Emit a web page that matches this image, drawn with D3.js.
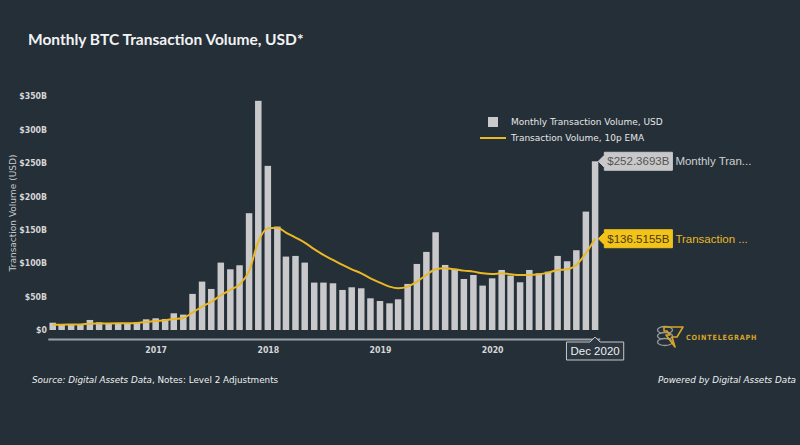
<!DOCTYPE html>
<html>
<head>
<meta charset="utf-8">
<script src="https://cdn.jsdelivr.net/npm/d3@7"></script>
<style>
  html, body { margin: 0; padding: 0; background: #242f38; }
  svg { display: block; }
</style>
</head>
<body>
<div id="chart"></div>
<script>
// ---- Data ----
const months = [
  "2016-02","2016-03","2016-04","2016-05","2016-06","2016-07","2016-08","2016-09","2016-10","2016-11","2016-12",
  "2017-01","2017-02","2017-03","2017-04","2017-05","2017-06","2017-07","2017-08","2017-09","2017-10","2017-11","2017-12",
  "2018-01","2018-02","2018-03","2018-04","2018-05","2018-06","2018-07","2018-08","2018-09","2018-10","2018-11","2018-12",
  "2019-01","2019-02","2019-03","2019-04","2019-05","2019-06","2019-07","2019-08","2019-09","2019-10","2019-11","2019-12",
  "2020-01","2020-02","2020-03","2020-04","2020-05","2020-06","2020-07","2020-08","2020-09","2020-10","2020-11","2020-12"
];
// Monthly transaction volume, billions USD
const volume = [
  10.9, 7.5, 7.5, 7.5, 15, 11.5, 10, 10, 10, 11.5, 16,
  17.5, 16.5, 25, 23, 54, 72.4, 61.4, 100.8, 90.8, 96.8, 174.7, 342.8,
  245.5, 154.7, 109.8, 110.8, 100.8, 70.9, 70.9, 69.9, 59.9, 63.9, 62.4, 47.4,
  43.4, 39.9, 45.9, 68.9, 98.8, 116.8, 146.2, 97.3, 90.8, 76.3, 82.3, 66.4,
  77.3, 89.8, 81.4, 71.4, 89.8, 84.8, 87.3, 110.8, 102.8, 119.3, 177.1, 252.3693
];
// 10-period EMA, billions USD
const ema = [
  8, 8, 8.2, 8.4, 9.5, 9.8, 9.9, 10, 10, 10.5, 12,
  13.5, 14.5, 16.5, 18, 26, 35, 42, 52, 60, 68, 88, 132,
  152, 153, 145.7, 138.2, 130.7, 121, 112.3, 104.8, 97.3, 90.8, 84.8, 77.3,
  70.9, 64.9, 62.4, 64.9, 72.4, 82.3, 90.8, 92.3, 90.8, 88.8, 87.3, 84.8,
  83.8, 84.8, 83.3, 82.3, 82.3, 83.3, 85.8, 89.8, 90.8, 97.3, 114.8, 136.5155
];
const yTicks = [0, 50, 100, 150, 200, 250, 300, 350];
const yTickLabels = ["$0", "$50B", "$100B", "$150B", "$200B", "$250B", "$300B", "$350B"];
const legendLabels = ["Monthly Transaction Volume, USD", "Transaction Volume, 10p EMA"];
const lastBarLabel = "$252.3693B";
const lastEmaLabel = "$136.5155B";
const lastBarName = "Monthly Tran...";
const lastEmaName = "Transaction ...";
const lastMonthLabel = "Dec 2020";

// ---- Setup ----
const W = 800, H = 445;
const BG = "#242f38";
const BAR = "#c9c9cb";
const GOLD = "#e9b824";
const SANS = "'DejaVu Sans', Verdana, sans-serif";
const SANSC = "'DejaVu Sans Condensed', 'DejaVu Sans', sans-serif";
const parse = d3.timeParse("%Y-%m");
const dates = months.map(parse);

const svg = d3.select("#chart").append("svg")
  .attr("width", W).attr("height", H);
svg.append("rect").attr("width", W).attr("height", H).attr("fill", BG);

const x = d3.scaleTime()
  .domain([new Date(2016, 0, 16), new Date(2020, 11, 16)])
  .range([47.8, 599.7]);
const y = d3.scaleLinear().domain([0, 350]).range([330, 96]);
const barW = 6.5;

// Title
svg.append("text")
  .attr("x", 28).attr("y", 45)
  .attr("font-family", "Lato, 'Open Sans', sans-serif")
  .attr("font-weight", "bold")
  .attr("font-size", 15.5)
  .attr("fill", "#f2f2f2")
  .text("Monthly BTC Transaction Volume, USD*");

// Y axis
const yAxis = svg.append("g")
  .attr("transform", "translate(50,0)")
  .call(d3.axisLeft(y).tickValues(yTicks).tickSize(0).tickPadding(3)
    .tickFormat((d, i) => yTickLabels[i]));
yAxis.select(".domain").remove();
yAxis.selectAll("text")
  .attr("font-family", SANSC)
  .attr("font-weight", "bold")
  .attr("font-size", 8.7)
  .attr("fill", "#d6d6d6");

svg.append("text")
  .attr("transform", "translate(16,213) rotate(-90)")
  .attr("text-anchor", "middle")
  .attr("font-family", SANS)
  .attr("font-size", 9)
  .attr("fill", "#c8c8c8")
  .text("Transaction Volume (USD)");

// X axis
const xAxis = svg.append("g")
  .attr("transform", "translate(0,339)")
  .call(d3.axisBottom(x).ticks(d3.timeYear.every(1)).tickSize(0).tickPadding(8)
    .tickFormat(d3.timeFormat("%Y")));
xAxis.select(".domain").attr("stroke", "#9ba1a7").attr("stroke-width", 2);
xAxis.selectAll("text")
  .attr("font-family", SANSC)
  .attr("font-weight", "bold")
  .attr("font-size", 8.7)
  .attr("fill", "#d6d6d6");

// Bars
svg.append("g").selectAll("rect")
  .data(volume)
  .join("rect")
  .attr("x", (d, i) => x(dates[i]) - barW / 2)
  .attr("y", d => y(d))
  .attr("width", barW)
  .attr("height", d => y(0) - y(d))
  .attr("fill", BAR);

// EMA line
const line = d3.line()
  .x((d, i) => x(dates[i]))
  .y(d => y(d))
  .curve(d3.curveMonotoneX);
svg.append("path")
  .datum(ema)
  .attr("d", line)
  .attr("fill", "none")
  .attr("stroke", GOLD)
  .attr("stroke-width", 2);

// Legend
const lg = svg.append("g");
lg.append("rect").attr("x", 488).attr("y", 117).attr("width", 10).attr("height", 10).attr("fill", BAR);
lg.append("line").attr("x1", 480).attr("x2", 506).attr("y1", 138).attr("y2", 138)
  .attr("stroke", GOLD).attr("stroke-width", 2);
lg.selectAll("text.lt")
  .data(legendLabels)
  .join("text")
  .attr("x", 511)
  .attr("y", (d, i) => 122 + i * 16)
  .attr("dy", "0.35em")
  .attr("font-family", SANS)
  .attr("font-size", 9)
  .attr("fill", "#e6e6e6")
  .text(d => d);

// Hover-style annotations at last point
function hoverLabel(tipX, tipY, valueText, nameText, fill, textFill, nameFill) {
  const g = svg.append("g");
  const pad = 3, arrow = 6, h = 18;
  const t = g.append("text")
    .attr("font-family", "'Liberation Sans', Arial, sans-serif")
    .attr("font-size", 11.5)
    .attr("fill", textFill)
    .attr("x", tipX + arrow + pad)
    .attr("y", tipY)
    .attr("dy", "0.36em")
    .text(valueText);
  const w = t.node().getComputedTextLength() + pad * 2;
  const x0 = tipX + arrow, x1 = x0 + w;
  g.insert("path", "text")
    .attr("d", `M${tipX},${tipY} L${x0},${tipY - arrow} L${x0},${tipY - h / 2} L${x1},${tipY - h / 2} L${x1},${tipY + h / 2} L${x0},${tipY + h / 2} L${x0},${tipY + arrow} Z`)
    .attr("fill", fill)
    .attr("stroke", fill);
  g.append("text")
    .attr("font-family", "'Liberation Sans', Arial, sans-serif")
    .attr("font-size", 11.5)
    .attr("fill", nameFill)
    .attr("x", x1 + 3)
    .attr("y", tipY)
    .attr("dy", "0.36em")
    .text(nameText);
}
const lastI = volume.length - 1;
hoverLabel(x(dates[lastI]) + barW / 2, y(volume[lastI]), lastBarLabel, lastBarName, "#c8c8ca", "#555", "#d0d0d0");
hoverLabel(x(dates[lastI]) + barW / 2, y(ema[lastI]), lastEmaLabel, lastEmaName, "#f2c318", "#4a3a10", GOLD);

// X hover label
(function () {
  const cx = x(dates[lastI]);
  const top = 337, arrow = 5, h = 18;
  const g = svg.append("g");
  const t = g.append("text")
    .attr("x", cx)
    .attr("y", top + arrow + h / 2)
    .attr("dy", "0.36em")
    .attr("text-anchor", "middle")
    .attr("font-family", "'Liberation Sans', Arial, sans-serif")
    .attr("font-size", 11.5)
    .attr("fill", "#f0f0f0")
    .text(lastMonthLabel);
  const w = t.node().getComputedTextLength() + 8;
  const l = cx - w / 2, r = cx + w / 2, b = top + arrow + h;
  g.insert("path", "text")
    .attr("d", `M${cx},${top} L${cx + arrow},${top + arrow} L${r},${top + arrow} L${r},${b} L${l},${b} L${l},${top + arrow} L${cx - arrow},${top + arrow} Z`)
    .attr("fill", "#2b3640")
    .attr("stroke", "#c8c8c8")
    .attr("stroke-width", 1);
})();

// Logo
(function () {
  const g = svg.append("g").attr("transform", "translate(657,323)");
  [0, 6, 12].forEach(dy => {
    g.append("ellipse").attr("cx", 8).attr("cy", 7 + dy).attr("rx", 7.5).attr("ry", 3.5)
      .attr("fill", BG).attr("stroke", "#9a9a9a").attr("stroke-width", 1.3);
  });
  g.append("path")
    .attr("d", "M7,4 L26,4 L20,14 L15,14 L18,24 L9,12 L13,12 L10,8 L7,8 Z")
    .attr("fill", "none").attr("stroke", "#d6a526").attr("stroke-width", 1.6)
    .attr("stroke-linejoin", "round");
  svg.append("text")
    .attr("x", 686).attr("y", 340)
    .attr("font-family", SANSC)
    .attr("font-weight", "bold")
    .attr("font-size", 7.2)
    .attr("letter-spacing", 0.8)
    .attr("fill", "#d6a526")
    .text("COINTELEGRAPH");
})();

// Footer
const foot = svg.append("text")
  .attr("x", 32).attr("y", 383)
  .attr("font-family", SANS)
  .attr("font-size", 8.8)
  .attr("fill", "#f0f0f0");
foot.append("tspan").attr("font-style", "italic").text("Source: Digital Assets Data");
foot.append("tspan").text(", Notes: Level 2 Adjustments");

svg.append("text")
  .attr("x", 796).attr("y", 383)
  .attr("text-anchor", "end")
  .attr("font-family", SANS)
  .attr("font-style", "italic")
  .attr("font-size", 8.8)
  .attr("fill", "#f0f0f0")
  .text("Powered by Digital Assets Data");
</script>
</body>
</html>
